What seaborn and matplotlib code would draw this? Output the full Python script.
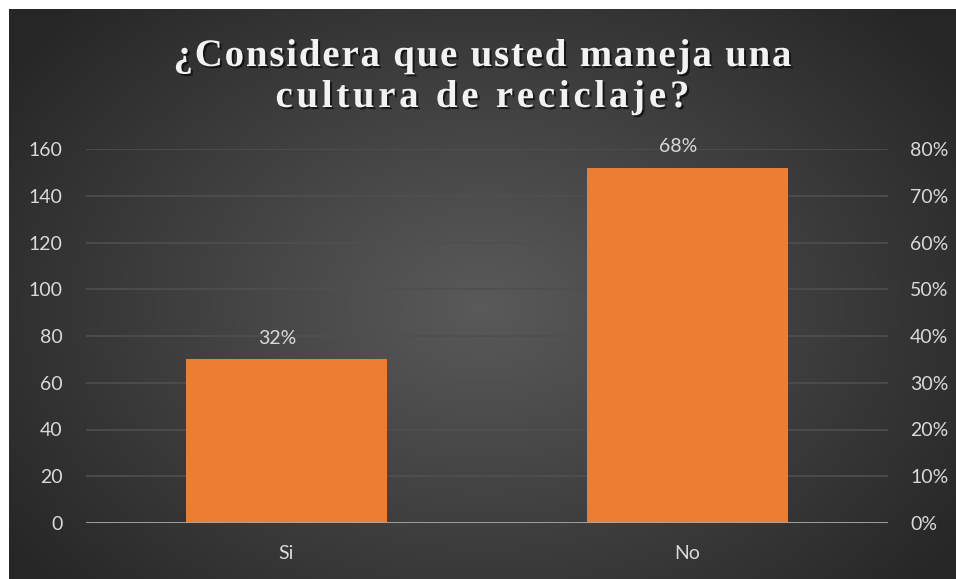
import numpy as np
import pandas as pd
import matplotlib
matplotlib.use("Agg")
import matplotlib.pyplot as plt
import matplotlib.patheffects as pe
from matplotlib.ticker import PercentFormatter
import seaborn as sns

# ---- data ----
categories = ["Si", "No"]
counts = [70, 152]
pct_labels = ["32%", "68%"]
left_ticks = [0, 20, 40, 60, 80, 100, 120, 140, 160]
right_ticks = [0, 0.1, 0.2, 0.3, 0.4, 0.5, 0.6, 0.7, 0.8]
title_lines = ["¿Considera que usted maneja una", "cultura de reciclaje?"]

sns.set_theme(style="white")
plt.rcParams["font.family"] = ["Lato", "DejaVu Sans"]

W, H = 956, 579
fig = plt.figure(figsize=(W / 100, H / 100), dpi=100, facecolor="white")

# background with radial gradient
bg = fig.add_axes([9 / W, 0, (W - 9) / W, (H - 9) / H], zorder=0)
bw, bh = W - 9, H - 9
yy, xx = np.mgrid[0:bh, 0:bw]
cx, cy = bw * 0.5, bh * 0.52
r = np.sqrt(((xx - cx) / (bw * 0.62)) ** 2 + ((yy - cy) / (bh * 0.75)) ** 2)
r = np.clip(r, 0, 1)
c_in = np.array([0x5a, 0x5a, 0x5a]) / 255
c_out = np.array([0x26, 0x26, 0x26]) / 255
img = c_in[None, None, :] * (1 - r[..., None]) + c_out[None, None, :] * r[..., None]
bg.imshow(img, aspect="auto", interpolation="bilinear")
bg.set_axis_off()

L, R, B, T = 86, 888, 523, 149
pos = [L / W, (H - B) / H, (R - L) / W, (B - T) / H]
ax = fig.add_axes(pos, zorder=2)
ax.set_facecolor("none")

df = pd.DataFrame({"cat": categories, "count": counts})
sns.barplot(data=df, x="cat", y="count", color="#ED7D31", saturation=1,
            width=0.5, ax=ax, zorder=3, linewidth=0, edgecolor="none")
ax.set_ylim(0, 160)
ax.set_yticks(left_ticks)
ax.set_xlabel("")
ax.set_ylabel("")
for s in ax.spines.values():
    s.set_visible(False)
ax.grid(axis="y", color="#4f4f4f", lw=1.2, zorder=0)
ax.set_axisbelow(True)
ax.axhline(0, color="#a6a6a6", lw=2, zorder=4)
ax.tick_params(axis="y", length=0, pad=17, labelsize=14, labelcolor="#d9d9d9")
ax.tick_params(axis="x", length=0, pad=16, labelsize=14, labelcolor="#d9d9d9")

for i, (v, lab) in enumerate(zip(counts, pct_labels)):
    ax.annotate(lab, (i, v), xytext=(-7, 15), textcoords="offset points",
                ha="center", va="center", fontsize=14, color="#d9d9d9")

ax2 = ax.twinx()
ax2.set_position(pos)
ax2.set_ylim(0, 0.8)
ax2.set_yticks(right_ticks)
ax2.yaxis.set_major_formatter(PercentFormatter(1.0, decimals=0))
for s in ax2.spines.values():
    s.set_visible(False)
ax2.grid(False)
ax2.tick_params(axis="y", length=0, pad=16, labelsize=14, labelcolor="#d9d9d9")

# ---- letter-spaced title ----
renderer = fig.canvas.get_renderer()
tprops = dict(fontsize=28, fontweight="bold", color="#f2f2f2",
              family=["Liberation Serif", "DejaVu Serif"])
shadow = [pe.withSimplePatchShadow(offset=(1.5, -1.5), shadow_rgbFace="black", alpha=0.6)]


def text_w(s):
    t = fig.text(0, 0, s, **tprops)
    w = t.get_window_extent(renderer).width
    t.remove()
    return w


ref_w = text_w("xx")
def char_w(c):
    if c == " ":
        return text_w("x x") - ref_w
    return text_w(c)


baselines = [H - 66, H - 107]
target_widths = [618, 414]
for line, yb, tw in zip(title_lines, baselines, target_widths):
    widths = [char_w(c) for c in line]
    spacing = (tw - sum(widths)) / (len(line) - 1)
    x = W / 2 + 9 / 2 - tw / 2
    for c, w in zip(line, widths):
        if c != " ":
            fig.text(x / W, yb / H, c, ha="left", va="baseline",
                     path_effects=shadow, **tprops)
        x += w + spacing

fig.savefig("out.png", dpi=100, facecolor="white")
